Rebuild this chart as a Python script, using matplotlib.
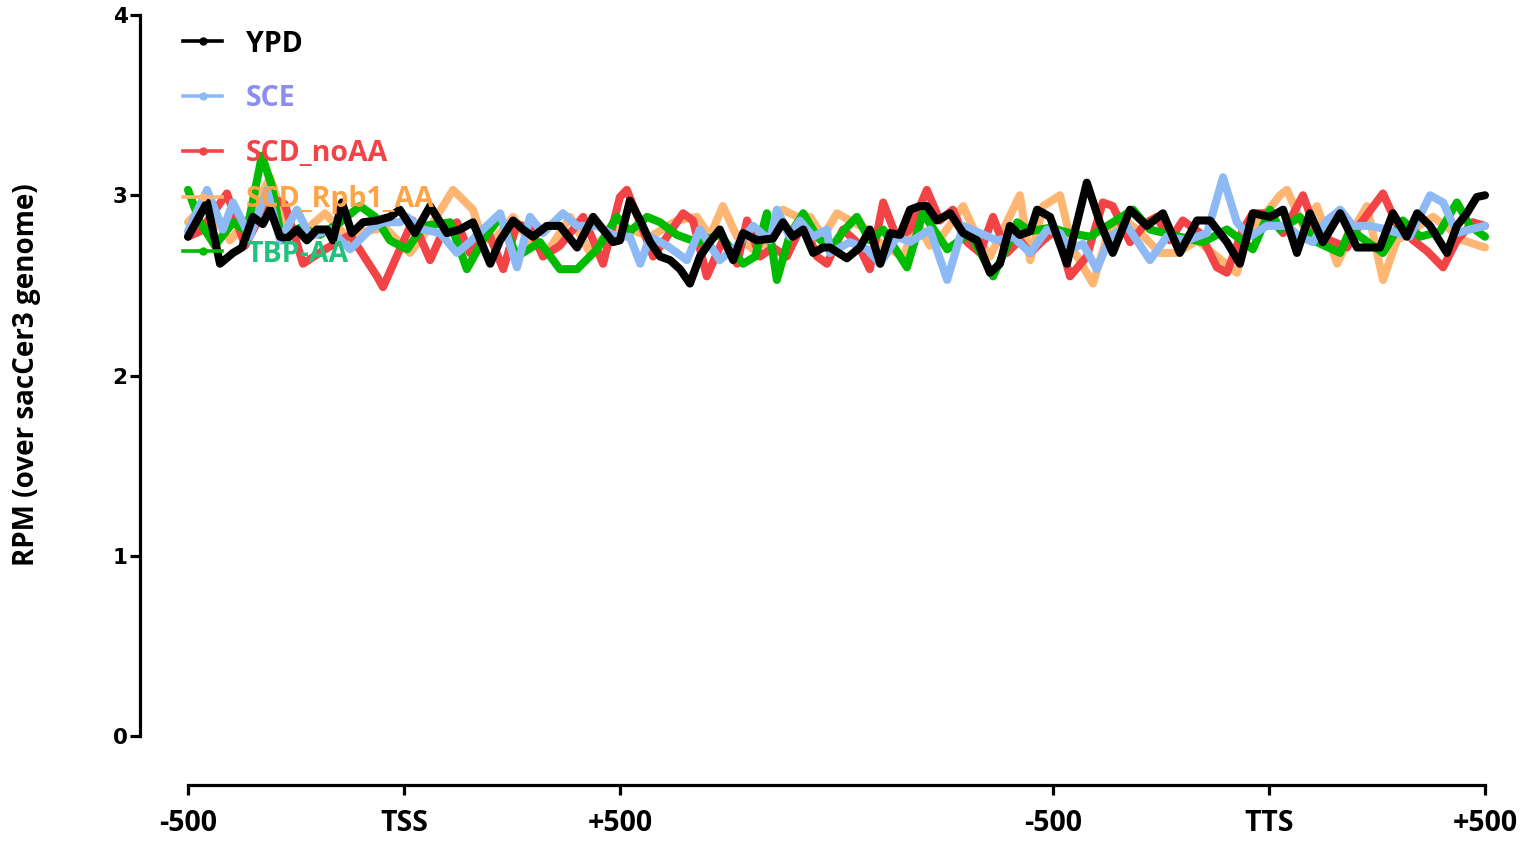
import matplotlib
matplotlib.use("Agg")
import matplotlib.pyplot as plt
from matplotlib.lines import Line2D

# metagene positions: 0..1000 = -500..+500 around TSS, 1000..2000 = scaled body,
# 2000..3000 = -500..+500 around TTS
tick_pos = [0, 500, 1000, 2000, 2500, 3000]
tick_labels = ["-500", "TSS", "+500", "-500", "TTS", "+500"]

ypd_x = [0, 44, 74, 104, 125, 150, 173, 190, 213, 229, 252, 275, 298, 322, 335, 356, 379, 405, 437,
         467, 490, 525, 560, 599, 629, 659, 699, 722, 752, 775, 798, 830, 860, 900, 937, 960, 983,
         999, 1022, 1046, 1069, 1092, 1115, 1138, 1161, 1184, 1207, 1230, 1261, 1284, 1316, 1353,
         1376, 1399, 1423, 1446, 1469, 1485, 1524, 1554, 1577, 1601, 1624, 1647, 1670, 1693, 1709,
         1732, 1763, 1793, 1825, 1855, 1878, 1901, 1924, 1948, 1964, 1994, 2033, 2079, 2109, 2139,
         2179, 2218, 2255, 2294, 2334, 2364, 2403, 2433, 2463, 2503, 2533, 2565, 2595, 2625, 2665,
         2704, 2734, 2757, 2787, 2819, 2843, 2873, 2912, 2935, 2958, 2981, 3000]
ypd_y = [2.77, 2.96, 2.62, 2.68, 2.71, 2.88, 2.84, 2.92, 2.77, 2.76, 2.81, 2.75, 2.81, 2.81, 2.75,
         2.96, 2.79, 2.85, 2.86, 2.88, 2.92, 2.79, 2.94, 2.79, 2.81, 2.85, 2.62, 2.75, 2.86, 2.81,
         2.77, 2.83, 2.83, 2.71, 2.88, 2.81, 2.74, 2.75, 2.97, 2.86, 2.74, 2.66, 2.64, 2.59, 2.51,
         2.66, 2.74, 2.81, 2.64, 2.79, 2.75, 2.76, 2.85, 2.77, 2.81, 2.68, 2.71, 2.71, 2.65, 2.71,
         2.81, 2.62, 2.79, 2.78, 2.92, 2.94, 2.94, 2.86, 2.90, 2.79, 2.75, 2.57, 2.62, 2.83, 2.78,
         2.80, 2.92, 2.88, 2.62, 3.07, 2.85, 2.68, 2.92, 2.83, 2.90, 2.68, 2.86, 2.86, 2.74, 2.62,
         2.90, 2.88, 2.92, 2.68, 2.90, 2.74, 2.90, 2.71, 2.71, 2.71, 2.90, 2.77, 2.90, 2.83, 2.68,
         2.83, 2.90, 2.99, 3.00]

sce_x = [0, 44, 81, 104, 143, 183, 213, 252, 282, 328, 375, 421, 451, 490, 507, 544, 583, 622, 652,
         682, 722, 761, 791, 821, 867, 900, 946, 992, 1022, 1046, 1069, 1108, 1154, 1184, 1230, 1270,
         1307, 1346, 1362, 1392, 1415, 1446, 1478, 1485, 1531, 1571, 1601, 1640, 1670, 1716, 1756,
         1793, 1832, 1871, 1908, 1948, 1987, 2017, 2040, 2070, 2102, 2133, 2172, 2225, 2264, 2311,
         2357, 2394, 2426, 2456, 2495, 2542, 2572, 2602, 2634, 2665, 2695, 2734, 2773, 2826, 2873,
         2903, 2935, 2965, 3000]
sce_y = [2.80, 3.03, 2.81, 2.96, 2.77, 3.03, 2.75, 2.92, 2.77, 2.81, 2.70, 2.81, 2.85, 2.85, 2.88,
         2.81, 2.79, 2.68, 2.74, 2.81, 2.90, 2.60, 2.88, 2.79, 2.90, 2.83, 2.83, 2.77, 2.77, 2.62,
         2.77, 2.72, 2.64, 2.81, 2.64, 2.72, 2.83, 2.75, 2.92, 2.77, 2.86, 2.77, 2.81, 2.68, 2.74,
         2.70, 2.62, 2.77, 2.74, 2.81, 2.53, 2.83, 2.79, 2.75, 2.77, 2.68, 2.81, 2.79, 2.70, 2.73,
         2.59, 2.77, 2.83, 2.64, 2.77, 2.75, 2.79, 3.10, 2.85, 2.77, 2.83, 2.83, 2.77, 2.74, 2.86,
         2.92, 2.83, 2.83, 2.81, 2.77, 3.00, 2.96, 2.79, 2.81, 2.83]

noaa_x = [0, 28, 90, 132, 190, 224, 266, 317, 375, 437, 451, 490, 520, 560, 590, 622, 652, 692, 729,
          761, 791, 821, 860, 914, 960, 999, 1015, 1052, 1076, 1108, 1145, 1168, 1200, 1237, 1270,
          1293, 1323, 1353, 1385, 1423, 1455, 1478, 1515, 1547, 1577, 1608, 1640, 1670, 1709, 1739,
          1769, 1802, 1832, 1862, 1894, 1924, 1948, 1978, 2010, 2040, 2079, 2116, 2139, 2179, 2218,
          2241, 2271, 2301, 2341, 2380, 2403, 2440, 2463, 2495, 2533, 2579, 2611, 2641, 2681, 2711,
          2764, 2796, 2834, 2866, 2903, 2935, 2972, 3000]
noaa_y = [2.77, 2.80, 3.01, 2.72, 2.99, 2.95, 2.62, 2.70, 2.78, 2.55, 2.49, 2.70, 2.86, 2.64, 2.80,
          2.85, 2.68, 2.81, 2.59, 2.84, 2.82, 2.66, 2.72, 2.88, 2.62, 2.99, 3.03, 2.81, 2.66, 2.77,
          2.90, 2.86, 2.55, 2.75, 2.62, 2.86, 2.66, 2.71, 2.66, 2.85, 2.66, 2.62, 2.81, 2.74, 2.59,
          2.96, 2.76, 2.81, 3.03, 2.86, 2.92, 2.74, 2.68, 2.88, 2.68, 2.75, 2.68, 2.75, 2.81, 2.55,
          2.66, 2.96, 2.94, 2.74, 2.85, 2.88, 2.75, 2.86, 2.79, 2.60, 2.57, 2.81, 2.90, 2.90, 2.79,
          3.00, 2.79, 2.75, 2.71, 2.84, 3.01, 2.84, 2.75, 2.69, 2.60, 2.75, 2.85, 2.83]

rpb1_x = [0, 39, 97, 143, 190, 224, 259, 317, 375, 409, 456, 513, 567, 613, 659, 682, 715, 752, 791,
          830, 884, 930, 969, 1011, 1069, 1131, 1177, 1207, 1237, 1270, 1307, 1339, 1376, 1409, 1439,
          1469, 1501, 1531, 1571, 1608, 1654, 1686, 1716, 1746, 1793, 1825, 1855, 1894, 1924, 1948,
          1978, 2017, 2047, 2093, 2126, 2156, 2195, 2248, 2288, 2334, 2380, 2426, 2456, 2486, 2526,
          2542, 2579, 2611, 2658, 2695, 2727, 2764, 2796, 2834, 2880, 2919, 2949, 3000]
rpb1_y = [2.85, 2.95, 2.75, 2.88, 3.10, 2.85, 2.78, 2.90, 2.75, 2.80, 2.82, 2.68, 2.85, 3.03, 2.92,
          2.75, 2.77, 2.88, 2.74, 2.68, 2.88, 2.68, 2.79, 2.82, 2.77, 2.86, 2.88, 2.77, 2.94, 2.77,
          2.70, 2.74, 2.92, 2.88, 2.88, 2.77, 2.90, 2.86, 2.81, 2.72, 2.66, 2.85, 2.72, 2.78, 2.94,
          2.77, 2.66, 2.85, 3.00, 2.64, 2.94, 3.00, 2.70, 2.51, 2.77, 2.88, 2.81, 2.68, 2.68, 2.75,
          2.66, 2.57, 2.81, 2.88, 3.00, 3.03, 2.83, 2.94, 2.62, 2.81, 2.94, 2.53, 2.75, 2.81, 2.88,
          2.81, 2.75, 2.71]

tbp_x = [0, 28, 62, 104, 136, 171, 194, 217, 259, 305, 352, 398, 433, 467, 507, 544, 606, 645, 682,
         722, 761, 814, 860, 900, 946, 992, 1022, 1062, 1092, 1131, 1177, 1230, 1284, 1312, 1339,
         1362, 1392, 1423, 1455, 1485, 1515, 1547, 1577, 1608, 1663, 1700, 1756, 1809, 1862, 1901,
         1918, 1948, 1994, 2040, 2086, 2186, 2225, 2294, 2348, 2403, 2426, 2463, 2503, 2526, 2572,
         2602, 2665, 2688, 2764, 2810, 2850, 2896, 2935, 2965, 3000]
tbp_y = [3.03, 2.85, 2.72, 2.85, 2.80, 3.22, 3.05, 2.75, 2.82, 2.78, 2.85, 2.94, 2.88, 2.75, 2.70,
         2.83, 2.85, 2.59, 2.75, 2.88, 2.66, 2.74, 2.59, 2.59, 2.70, 2.88, 2.80, 2.88, 2.85, 2.78,
         2.74, 2.78, 2.62, 2.66, 2.90, 2.53, 2.78, 2.90, 2.77, 2.70, 2.80, 2.88, 2.75, 2.81, 2.60,
         2.90, 2.70, 2.79, 2.55, 2.75, 2.85, 2.80, 2.82, 2.79, 2.77, 2.92, 2.81, 2.77, 2.74, 2.81,
         2.77, 2.70, 2.92, 2.81, 2.88, 2.75, 2.68, 2.81, 2.68, 2.86, 2.77, 2.80, 2.96, 2.83, 2.77]

W, H = 1528, 843
fig = plt.figure(figsize=(W / 100, H / 100), dpi=100)
ax = fig.add_axes([188 / W, 1 - 736 / H, (1485 - 188) / W, (736 - 15) / H])

lw = 5.8
style = dict(lw=lw, solid_capstyle="round", solid_joinstyle="round", clip_on=False)
# bottom to top
ax.plot(rpb1_x, rpb1_y, color="#FFB672", **style)
ax.plot(noaa_x, noaa_y, color="#F24446", **style)
ax.plot(tbp_x, tbp_y, color="#00BB00", **style)
ax.plot(sce_x, sce_y, color="#8DBAF5", **style)
ax.plot(ypd_x, ypd_y, color="black", **style)

ax.set_xlim(0, 3000)
ax.set_ylim(0, 4)

for s in ["top", "right"]:
    ax.spines[s].set_visible(False)
ax.spines["left"].set_position(("outward", 34.5))
ax.spines["bottom"].set_position(("outward", 35.3))
ax.spines["left"].set_linewidth(2.3)
ax.spines["bottom"].set_linewidth(2.3)
ax.spines["bottom"].set_bounds(0, 3000)

ax.set_yticks([0, 1, 2, 3, 4])
ax.set_xticks(tick_pos)
ax.set_xticklabels(tick_labels, fontfamily="Open Sans", fontweight="bold", fontsize=20.5)
for t in ax.get_yticklabels():
    t.set_fontfamily("DejaVu Sans")
    t.set_fontweight("bold")
    t.set_fontsize(15.5)
ax.tick_params(axis="both", width=2.3, length=7, color="black")
ax.tick_params(axis="y", pad=2)
ax.tick_params(axis="x", pad=10)

fig.text(27 / W, 1 - 375 / H, "RPM (over sacCer3 genome)", rotation=90, ha="center", va="center",
         fontfamily="Open Sans", fontweight="bold", fontsize=20)

# legend, drawn by hand so the rows sit where they do in the original
legend_rows = [("YPD", "black", "black", 41),
               ("SCE", "#8DBAF5", "#8C8CF2", 96),
               ("SCD_noAA", "#F24446", "#F24446", 151),
               ("SCD_Rpb1_AA", "#FFB672", "#FFA445", 197),
               ("TBP-AA", "#00BB00", "#22C27E", 251)]
for label, lc, tc, py in legend_rows:
    yf = 1 - py / H
    fig.add_artist(Line2D([183 / W, 222 / W], [yf, yf], color=lc, lw=2.6,
                          transform=fig.transFigure))
    fig.add_artist(Line2D([203 / W], [yf], color=lc, marker="o", markersize=5,
                          transform=fig.transFigure))
    fig.text(246 / W, yf - 3 / H, label, color=tc, ha="left", va="center",
             fontfamily="Open Sans", fontweight="bold", fontsize=20.5)

fig.savefig("out.png", dpi=100)
